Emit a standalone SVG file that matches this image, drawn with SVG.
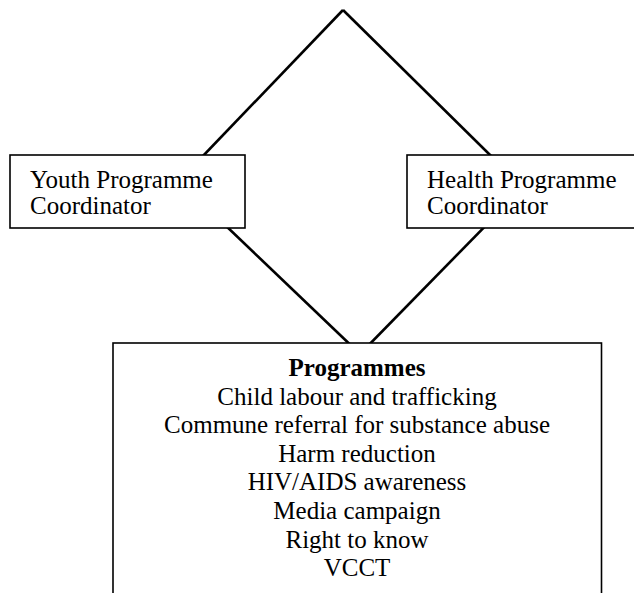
<svg xmlns="http://www.w3.org/2000/svg" width="634" height="593" viewBox="0 0 634 593">
<style>
.bg{fill:#ffffff}
.conn line{stroke:#000000;stroke-width:2.6;stroke-linecap:butt}
.box{fill:#ffffff;stroke:#000000;stroke-width:1.6}
text{font-family:"Liberation Serif","Times New Roman",serif;font-size:25px;fill:#000000}
.c{text-anchor:middle}
.b{font-weight:bold}
</style>
<rect class="bg" x="0" y="0" width="634" height="593"/>
<g id="connectors" class="conn">
<line x1="343" y1="10" x2="179" y2="181"/>
<line x1="343" y1="10" x2="523" y2="187.5"/>
<line x1="179" y1="181" x2="360" y2="354"/>
<line x1="523" y1="187.5" x2="360" y2="354"/>
</g>
<g id="youth">
<rect class="box" x="10" y="155" width="235" height="73"/>
<text x="30" y="187.5">Youth Programme</text>
<text x="30" y="214">Coordinator</text>
</g>
<g id="health">
<rect class="box" x="407" y="155" width="240" height="73"/>
<text x="427" y="187.5">Health Programme</text>
<text x="427" y="214">Coordinator</text>
</g>
<g id="programmes">
<rect class="box" x="113" y="343" width="488.5" height="300"/>
<text class="c b" x="357" y="376">Programmes</text>
<text class="c" x="357" y="404.6">Child labour and trafficking</text>
<text class="c" x="357" y="433.2">Commune referral for substance abuse</text>
<text class="c" x="357" y="461.8">Harm reduction</text>
<text class="c" x="357" y="490.4">HIV/AIDS awareness</text>
<text class="c" x="357" y="519">Media campaign</text>
<text class="c" x="357" y="547.6">Right to know</text>
<text class="c" x="357" y="576.2">VCCT</text>
</g>
</svg>
